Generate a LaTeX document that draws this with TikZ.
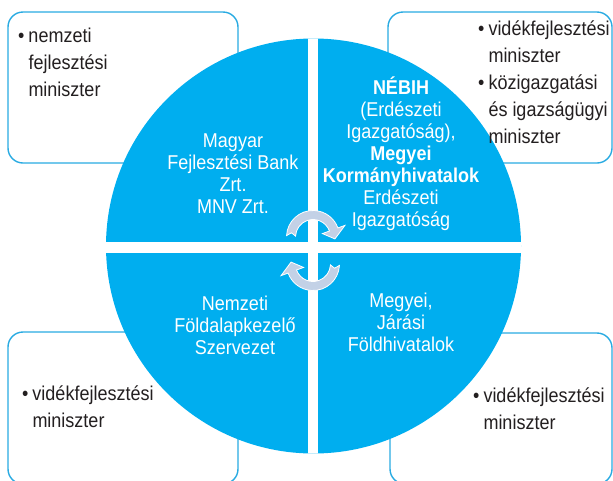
\documentclass[tikz,border=0pt]{standalone}
\usepackage{fontspec}
\setmainfont[FakeStretch=0.9]{Liberation Sans}
\usepackage{tikz}
\usetikzlibrary{calc}
\definecolor{circblue}{HTML}{00AEEF}
\definecolor{boxblue}{HTML}{29ABE2}
\definecolor{arrowgrey}{HTML}{C3D1E6}
\definecolor{textgrey}{HTML}{231F20}
\tikzstyle{infobox} = [draw=boxblue, line width=1.4pt, fill=white, rounded corners=15pt]
\tikzstyle{quarter} = [text=white, anchor=base, inner sep=0pt, font=\fontsize{20}{22}\selectfont]
\tikzstyle{bullets} = [text=textgrey, anchor=base west, inner sep=0pt, font=\fontsize{20}{27}\selectfont]
\tikzstyle{turn} = [fill=arrowgrey, draw=white, line width=0.8pt]

\begin{document}
\begin{tikzpicture}[x=1pt, y=-1pt]
            \useasboundingbox (0,0) rectangle (613,480);
            % boxes behind the circle
            \draw[infobox] (8,12) rectangle (238,163);
            \draw[infobox] (388,12) rectangle (612,163);
            \draw[infobox] (8,332) rectangle (238,484);
            \draw[infobox] (390,333) rectangle (612,484);
            % circle and cross
            \coordinate (mid) at (313.5,246);
            \fill[circblue] (mid) circle[radius=207.5];
            \begin{scope}
                \clip (mid) circle[radius=207.5];
                \fill[white] (308,0) rectangle (318,480);
                \fill[white] (0,241.5) rectangle (613,252.5);
            \end{scope}
            % turning arrows
            \coordinate (c1) at (313,237);
            \coordinate (c2) at (313,264);
            \filldraw[turn] ($(c1)+(183:26.5)$) arc[start angle=183, end angle=340, radius=26.5] -- ($(c1)+(340:34)$) -- ($(c1)+(365:22)$) -- ($(c1)+(340:10)$) -- ($(c1)+(340:17.5)$) arc[start angle=340, end angle=183, radius=17.5] -- ($(c1)+(191:22)$) -- cycle;
            \filldraw[turn] ($(c2)+(3:26.5)$) arc[start angle=3, end angle=160, radius=26.5] -- ($(c2)+(160:34)$) -- ($(c2)+(185:22)$) -- ($(c2)+(160:10)$) -- ($(c2)+(160:17.5)$) arc[start angle=160, end angle=3, radius=17.5] -- ($(c2)+(11:22)$) -- cycle;
            % texts in the quarters
            \node[quarter] (mfb) at (233,147) {\begin{tabular}[t]{@{}c@{}}Magyar\\Fejlesztési Bank\\Zrt.\\MNV Zrt.\end{tabular}};
            \node[quarter] (nebih) at (401,94) {\begin{tabular}[t]{@{}c@{}}\textbf{NÉBIH}\\(Erdészeti\\Igazgatóság),\\\textbf{Megyei}\\\textbf{Kormányhivatalok}\\Erdészeti\\Igazgatóság\end{tabular}};
            \node[quarter] (nfa) at (235,310) {\begin{tabular}[t]{@{}c@{}}Nemzeti\\Földalapkezelő\\Szervezet\end{tabular}};
            \node[quarter] (fhiv) at (401,307) {\begin{tabular}[t]{@{}c@{}}Megyei,\\Járási\\Földhivatalok\end{tabular}};
            % texts in the boxes
            \node[bullets] (tl) at (18,42) {\begin{tabular}[t]{@{}l@{\hspace{4pt}}l@{}}\textbullet & nemzeti\\ & fejlesztési\\ & miniszter\end{tabular}};
            \node[bullets] (tr) at (478,35) {\begin{tabular}[t]{@{}l@{\hspace{4pt}}l@{}}\textbullet & vidékfejlesztési\\ & miniszter\\\textbullet & közigazgatási\\ & és igazságügyi\\ & miniszter\end{tabular}};
            \node[bullets] (bl) at (22,400) {\begin{tabular}[t]{@{}l@{\hspace{4pt}}l@{}}\textbullet & vidékfejlesztési\\ & miniszter\end{tabular}};
            \node[bullets] (br) at (473,402) {\begin{tabular}[t]{@{}l@{\hspace{4pt}}l@{}}\textbullet & vidékfejlesztési\\ & miniszter\end{tabular}};
        \end{tikzpicture}
\end{document}
